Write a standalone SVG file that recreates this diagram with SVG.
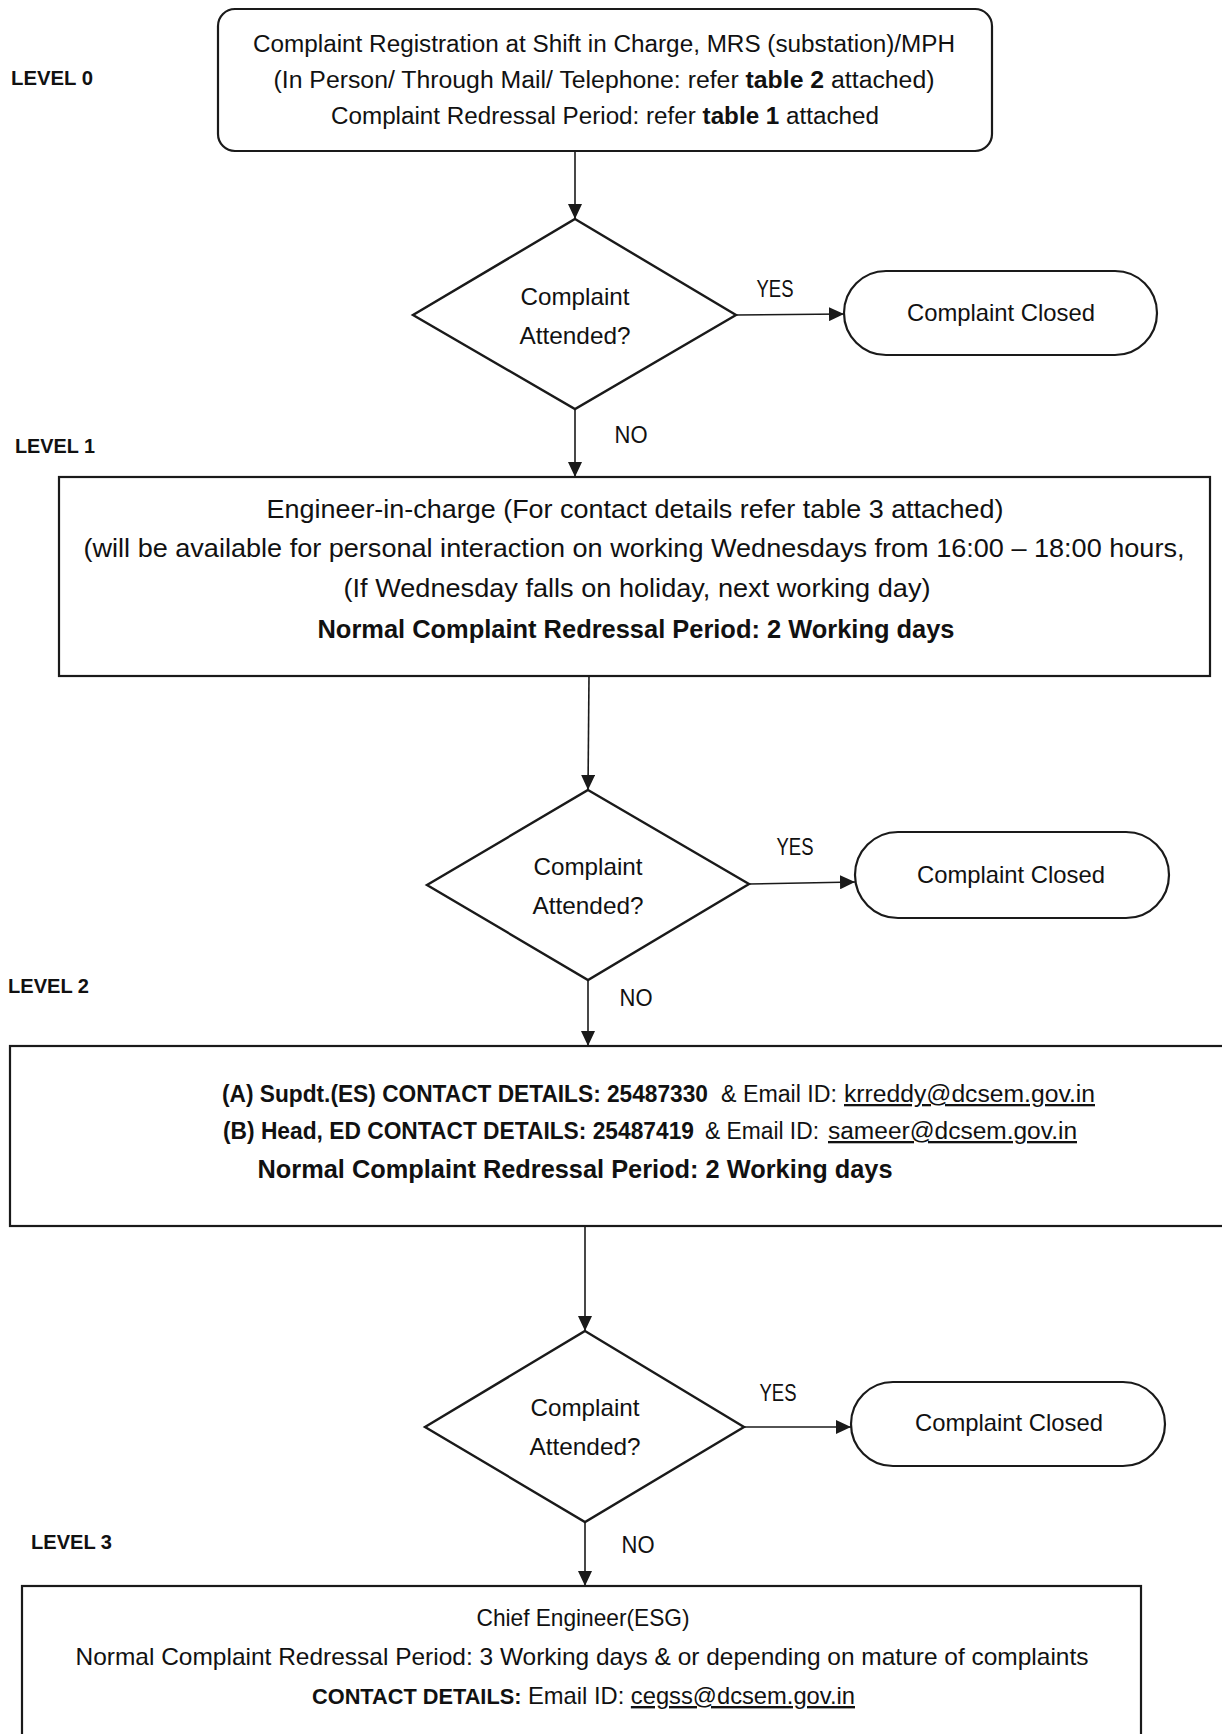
<svg xmlns="http://www.w3.org/2000/svg" width="1222" height="1734" viewBox="0 0 1222 1734">
<defs>
<style>
text{font-family:"Liberation Sans",Arial,sans-serif;fill:#111;}
.t23{font-size:23px;}
.t24{font-size:24px;}
.t25{font-size:25px;}
.b{font-weight:bold;}
.c{text-anchor:middle;}
.lvl{font-size:20px;font-weight:bold;}
.u{text-decoration:underline;}
.box{fill:#fff;stroke:#1a1a1a;stroke-width:2.2;}
.dia{fill:#fff;stroke:#1a1a1a;stroke-width:2.4;}
.con{fill:none;stroke:#1a1a1a;stroke-width:1.6;marker-end:url(#ah);}
</style>
<marker id="ah" markerUnits="userSpaceOnUse" markerWidth="15" markerHeight="14" refX="15" refY="7" orient="auto">
<path d="M0,0 L15,7 L0,14 z" fill="#1a1a1a"/>
</marker>
</defs>
<rect x="0" y="0" width="1222" height="1734" fill="#fff"/>

<g id="levels">
<text class="lvl" x="11" y="85" textLength="82" lengthAdjust="spacingAndGlyphs">LEVEL 0</text>
<text class="lvl" x="15" y="453" textLength="80" lengthAdjust="spacingAndGlyphs">LEVEL 1</text>
<text class="lvl" x="8" y="993" textLength="81" lengthAdjust="spacingAndGlyphs">LEVEL 2</text>
<text class="lvl" x="31" y="1549" textLength="81" lengthAdjust="spacingAndGlyphs">LEVEL 3</text>
</g>

<g id="connectors">
<line class="con" x1="575" y1="151" x2="575" y2="219"/>
<line class="con" x1="575" y1="409" x2="575" y2="477"/>
<line class="con" x1="589" y1="676" x2="588" y2="790"/>
<line class="con" x1="588" y1="980" x2="588" y2="1046"/>
<line class="con" x1="585" y1="1226" x2="585" y2="1331"/>
<line class="con" x1="585" y1="1522" x2="585" y2="1586"/>
<line class="con" x1="736" y1="315" x2="844" y2="314"/>
<line class="con" x1="749" y1="884" x2="855" y2="882"/>
<line class="con" x1="744" y1="1427" x2="851" y2="1427"/>
<text class="t23 c" x="775" y="297" textLength="37" lengthAdjust="spacingAndGlyphs">YES</text>
<text class="t23 c" x="631" y="443" textLength="33" lengthAdjust="spacingAndGlyphs">NO</text>
<text class="t23 c" x="795" y="855" textLength="37" lengthAdjust="spacingAndGlyphs">YES</text>
<text class="t23 c" x="636" y="1006" textLength="33" lengthAdjust="spacingAndGlyphs">NO</text>
<text class="t23 c" x="778" y="1401" textLength="37" lengthAdjust="spacingAndGlyphs">YES</text>
<text class="t23 c" x="638" y="1553" textLength="33" lengthAdjust="spacingAndGlyphs">NO</text>
</g>

<g id="level0-box">
<rect class="box" x="218" y="9" width="774" height="142" rx="17"/>
<text class="t23 c" x="604" y="52" textLength="702" lengthAdjust="spacingAndGlyphs">Complaint Registration at Shift in Charge, MRS (substation)/MPH</text>
<text class="t23 c" x="604" y="88" textLength="661" lengthAdjust="spacingAndGlyphs">(In Person/ Through Mail/ Telephone: refer <tspan class="b">table 2</tspan> attached)</text>
<text class="t23 c" x="605" y="124" textLength="548" lengthAdjust="spacingAndGlyphs">Complaint Redressal Period: refer <tspan class="b">table 1</tspan> attached</text>
</g>

<g id="decision1">
<polygon class="dia" points="575,219 736,315 575,409 413,315"/>
<text class="t24 c" x="575" y="305" textLength="109" lengthAdjust="spacingAndGlyphs">Complaint</text>
<text class="t24 c" x="575" y="344" textLength="111" lengthAdjust="spacingAndGlyphs">Attended?</text>
</g>

<g id="closed1">
<rect class="box" x="844" y="271" width="313" height="84" rx="42"/>
<text class="t24 c" x="1001" y="321" textLength="188" lengthAdjust="spacingAndGlyphs">Complaint Closed</text>
</g>

<g id="level1-box">
<rect class="box" x="59" y="477" width="1151" height="199"/>
<text class="t25 c" x="635" y="518" textLength="737" lengthAdjust="spacingAndGlyphs">Engineer-in-charge (For contact details refer table 3 attached)</text>
<text class="t25 c" x="634" y="557" textLength="1101" lengthAdjust="spacingAndGlyphs">(will be available for personal interaction on working Wednesdays from 16:00 – 18:00 hours,</text>
<text class="t25 c" x="637" y="597" textLength="587" lengthAdjust="spacingAndGlyphs">(If Wednesday falls on holiday, next working day)</text>
<text class="t25 c b" x="636" y="638" textLength="637" lengthAdjust="spacingAndGlyphs">Normal Complaint Redressal Period: 2 Working days</text>
</g>

<g id="decision2">
<polygon class="dia" points="588,790 749,884 588,980 427,885"/>
<text class="t24 c" x="588" y="875" textLength="109" lengthAdjust="spacingAndGlyphs">Complaint</text>
<text class="t24 c" x="588" y="914" textLength="111" lengthAdjust="spacingAndGlyphs">Attended?</text>
</g>

<g id="closed2">
<rect class="box" x="855" y="832" width="314" height="86" rx="43"/>
<text class="t24 c" x="1011" y="883" textLength="188" lengthAdjust="spacingAndGlyphs">Complaint Closed</text>
</g>

<g id="level2-box">
<rect class="box" x="10" y="1046" width="1230" height="180"/>
<text class="t23 b" x="222" y="1102" textLength="486" lengthAdjust="spacingAndGlyphs">(A) Supdt.(ES) CONTACT DETAILS:  25487330</text>
<text class="t23" x="721" y="1102" textLength="116" lengthAdjust="spacingAndGlyphs">&amp; Email ID:</text>
<text class="t23 u" x="844" y="1102" textLength="251" lengthAdjust="spacingAndGlyphs">krreddy@dcsem.gov.in</text>
<text class="t23 b" x="223" y="1139" textLength="471" lengthAdjust="spacingAndGlyphs">(B) Head, ED  CONTACT DETAILS: 25487419</text>
<text class="t23" x="705" y="1139" textLength="114" lengthAdjust="spacingAndGlyphs">&amp; Email ID:</text>
<text class="t23 u" x="828" y="1139" textLength="249" lengthAdjust="spacingAndGlyphs">sameer@dcsem.gov.in</text>
<text class="t25 c b" x="575" y="1178" textLength="635" lengthAdjust="spacingAndGlyphs">Normal Complaint Redressal Period: 2 Working days</text>
</g>

<g id="decision3">
<polygon class="dia" points="585,1331 744,1427 585,1522 425,1427"/>
<text class="t24 c" x="585" y="1416" textLength="109" lengthAdjust="spacingAndGlyphs">Complaint</text>
<text class="t24 c" x="585" y="1455" textLength="111" lengthAdjust="spacingAndGlyphs">Attended?</text>
</g>

<g id="closed3">
<rect class="box" x="851" y="1382" width="314" height="84" rx="42"/>
<text class="t24 c" x="1009" y="1431" textLength="188" lengthAdjust="spacingAndGlyphs">Complaint Closed</text>
</g>

<g id="level3-box">
<rect class="box" x="22" y="1586" width="1119" height="170"/>
<text class="t24 c" x="583" y="1626" textLength="213" lengthAdjust="spacingAndGlyphs">Chief Engineer(ESG)</text>
<text class="t24 c" x="582" y="1665" textLength="1013" lengthAdjust="spacingAndGlyphs">Normal Complaint Redressal Period: 3 Working days &amp; or depending on mature of complaints</text>
<text class="t24" x="312" y="1704" textLength="543" lengthAdjust="spacingAndGlyphs"><tspan class="b" font-size="22">CONTACT DETAILS:</tspan> Email ID: <tspan class="u">cegss@dcsem.gov.in</tspan></text>
</g>
</svg>
